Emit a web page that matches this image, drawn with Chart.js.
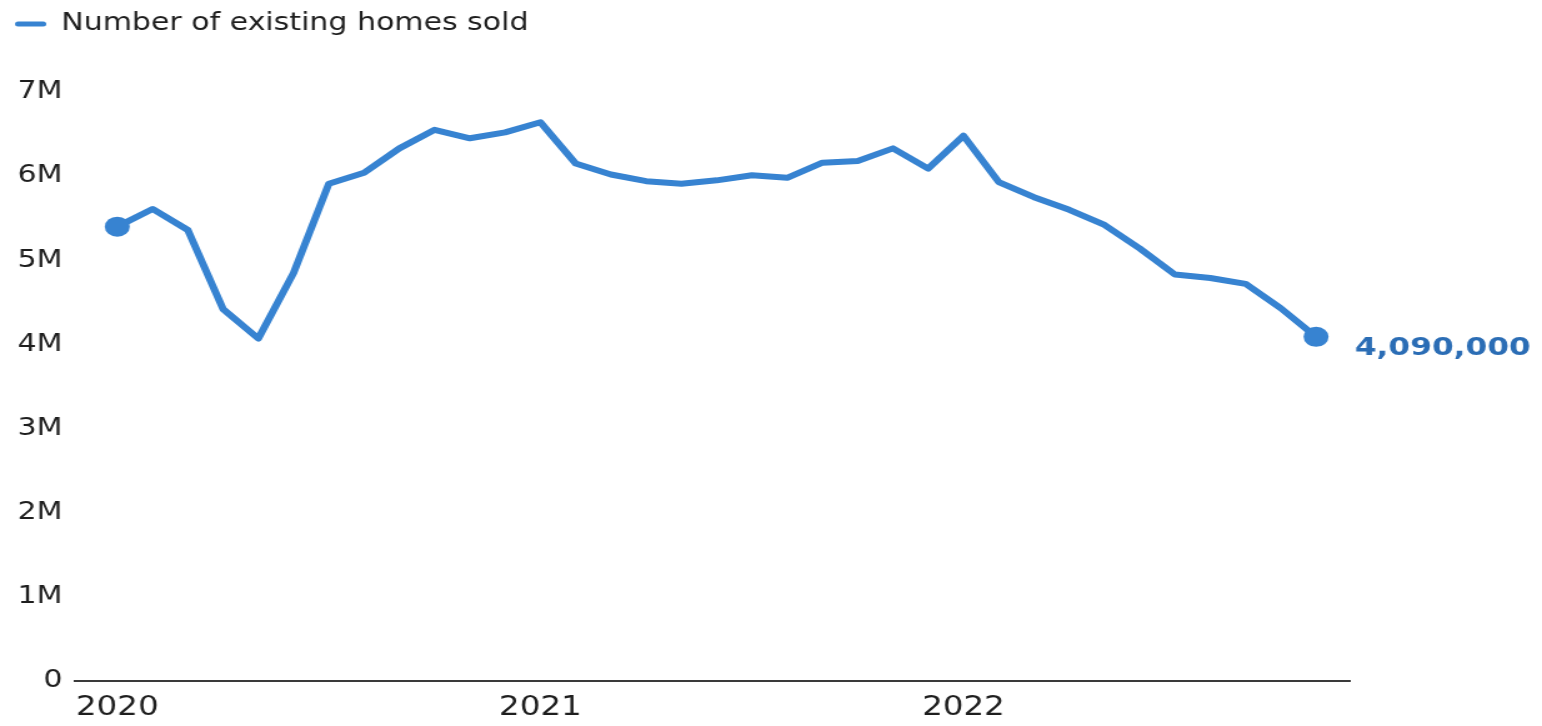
<!DOCTYPE html>
<html>
<head>
<meta charset="utf-8">
<title>Number of existing homes sold</title>
<script src="https://cdn.jsdelivr.net/npm/chart.js@4.4.1/dist/chart.umd.min.js"></script>
<style>
  html, body { margin: 0; padding: 0; background: #ffffff; overflow: hidden; }
  canvas { display: block; }
</style>
</head>
<body>
<canvas id="salesChart" width="1234" height="726" style="width:1542px;height:726px"></canvas>
<script>
// Monthly existing-home sales, seasonally adjusted annual rate (millions)
const months = [
  '2020-01','2020-02','2020-03','2020-04','2020-05','2020-06','2020-07','2020-08','2020-09','2020-10','2020-11','2020-12',
  '2021-01','2021-02','2021-03','2021-04','2021-05','2021-06','2021-07','2021-08','2021-09','2021-10','2021-11','2021-12',
  '2022-01','2022-02','2022-03','2022-04','2022-05','2022-06','2022-07','2022-08','2022-09','2022-10','2022-11'
];
const homesSold = [
  5.40, 5.61, 5.36, 4.42, 4.07, 4.85, 5.91, 6.04, 6.33, 6.55, 6.45, 6.52,
  6.64, 6.15, 6.02, 5.94, 5.91, 5.95, 6.01, 5.98, 6.16, 6.18, 6.33, 6.09,
  6.48, 5.93, 5.75, 5.60, 5.42, 5.14, 4.83, 4.79, 4.72, 4.43, 4.09
];
const yearLabels = ['2020', '2021', '2022'];
const seriesName = 'Number of existing homes sold';

const LINE_BLUE = '#3783d1';
const LABEL_BLUE = '#2b6db5';
const TEXT = '#1e1e1e';
const FONT = '"DejaVu Sans", "Liberation Sans", Arial, sans-serif';

const yearStarts = yearLabels.map(y => months.findIndex(m => m.startsWith(y)));
const lastIndex = homesSold.length - 1;

// Push the plot area down below the legend
const legendSpacing = {
  id: 'legendSpacing',
  beforeInit(chart) {
    const fit = chart.legend.fit;
    chart.legend.fit = function () {
      fit.call(this);
      this.height = 92;
    };
  }
};

// Value callout beside the latest month
const latestLabel = {
  id: 'latestLabel',
  afterDatasetsDraw(chart) {
    const pt = chart.getDatasetMeta(0).data[lastIndex];
    const ctx = chart.ctx;
    ctx.save();
    ctx.font = 'bold 25px ' + FONT;
    ctx.fillStyle = LABEL_BLUE;
    ctx.textAlign = 'left';
    ctx.textBaseline = 'middle';
    ctx.fillText(Math.round(homesSold[lastIndex] * 1e6).toLocaleString('en-US'), pt.x + 31, pt.y + 12);
    ctx.restore();
  }
};

new Chart(document.getElementById('salesChart'), {
  type: 'line',
  data: {
    datasets: [{
      label: seriesName,
      data: homesSold.map((v, i) => ({ x: i, y: v })),
      borderColor: LINE_BLUE,
      backgroundColor: LINE_BLUE,
      borderWidth: 6,
      tension: 0,
      borderJoinStyle: 'round',
      borderCapStyle: 'round',
      pointRadius: homesSold.map((v, i) => (i === 0 || i === lastIndex) ? 10 : 0),
      pointBackgroundColor: LINE_BLUE,
      pointBorderWidth: 0
    }]
  },
  options: {
    responsive: false,
    animation: false,
    devicePixelRatio: 1,
    events: [],
    layout: { padding: { left: 0, right: 154, top: 0, bottom: 0 } },
    plugins: {
      tooltip: { enabled: false },
      legend: {
        display: true,
        position: 'top',
        align: 'start',
        labels: {
          boxWidth: 25,
          boxHeight: 5,
          padding: 12,
          color: TEXT,
          font: { family: FONT, size: 24 },
          useBorderRadius: true,
          borderRadius: 2.5,
          generateLabels(chart) {
            const items = Chart.defaults.plugins.legend.labels.generateLabels(chart);
            items.forEach(it => { it.lineWidth = 0; it.fillStyle = LINE_BLUE; it.strokeStyle = LINE_BLUE; });
            return items;
          }
        }
      }
    },
    scales: {
      x: {
        type: 'linear',
        min: -1.2,
        max: 34.95,
        grid: { display: false, drawTicks: false },
        border: { display: true, color: '#3a3a3a', width: 2 },
        afterBuildTicks(scale) {
          scale.ticks = yearStarts.map(v => ({ value: v }));
        },
        afterFit(scale) { scale.height = 45; },
        ticks: {
          autoSkip: false,
          maxRotation: 0,
          padding: 12,
          color: TEXT,
          font: { family: FONT, size: 26 },
          callback(value) {
            const k = yearStarts.indexOf(value);
            return k >= 0 ? yearLabels[k] : '';
          }
        }
      },
      y: {
        min: 0,
        max: 7,
        grid: { display: false, drawTicks: false },
        border: { display: false },
        afterFit(scale) { scale.width = 60; },
        ticks: {
          stepSize: 1,
          padding: 10,
          color: TEXT,
          font: { family: FONT, size: 24 },
          callback(value) { return value === 0 ? '0' : value + 'M'; }
        }
      }
    }
  },
  plugins: [legendSpacing, latestLabel]
});
</script>
</body>
</html>
